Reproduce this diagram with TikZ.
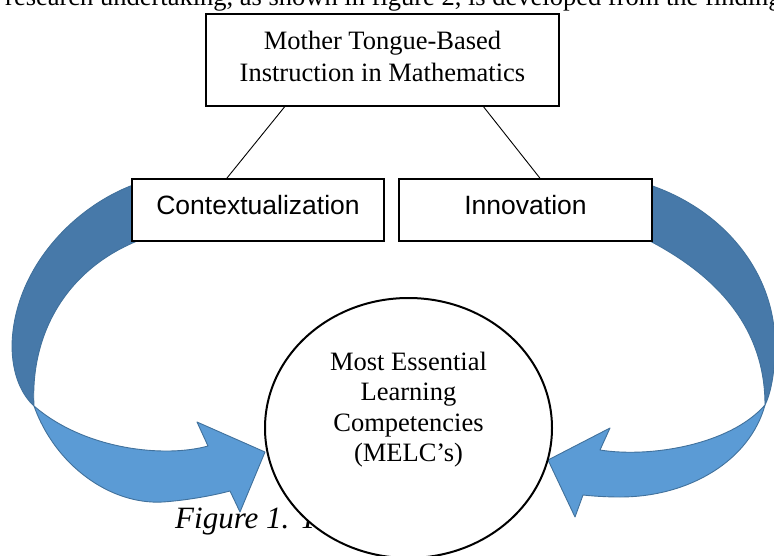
\documentclass[tikz,border=0pt]{standalone}
\usepackage{fontspec}
\setmainfont{Liberation Serif}
\newfontfamily\arialfont{Liberation Sans}
\usetikzlibrary{shapes.geometric,calc}
\definecolor{lightblue}{HTML}{5B9BD5}
\definecolor{darkblue}{HTML}{4779A9}
\definecolor{edgeblue}{HTML}{41719C}
\begin{document}
\begin{tikzpicture}[x=1pt,y=-1pt,
  serif/.style={font=\fontsize{26.5}{32}\selectfont},
  box/.style={draw=black,line width=1.5pt,fill=white,rectangle,inner sep=0pt},
  sansbox/.style={box,font=\arialfont\fontsize{26.5}{32}\selectfont,minimum width=252pt,minimum height=62pt,text height=19pt,text depth=9pt},
  band/.style={draw=edgeblue,line width=0.9pt,line join=round},
  link/.style={draw=black,line width=0.9pt}]
\useasboundingbox (0,0) rectangle (774,556);
\clip (0,0) rectangle (774,556);

% running text cut off at the top of the page
\node[serif,anchor=base west,inner sep=0pt] (runtext) at (5,5.5) {research undertaking, as shown in figure 2, is developed from the findings};

% caption (mostly hidden behind the circle)
\node[font=\fontsize{31}{36}\selectfont\itshape,anchor=base west,inner sep=0pt] (caption) at (175,528) {Figure 1. T};

% left curved arrow
\filldraw[band,fill=darkblue] (145,181) .. controls (80,200) and (14,265) .. (12,345)
  .. controls (12,375) and (22,395) .. (34,406)
  .. controls (30,330) and (70,265) .. (145,238) -- cycle;
\filldraw[band,fill=lightblue] (34,406) .. controls (55,465) and (110,505) .. (163,502)
  .. controls (190,500) and (215,495) .. (230,491)
  -- (240,512) -- (265,452) -- (197,422) -- (208,446)
  .. controls (165,458) and (85,450) .. (34,406) -- cycle;

% right curved arrow
\filldraw[band,fill=darkblue] (640,182) .. controls (720,205) and (775,270) .. (775,345)
  .. controls (775,375) and (770,395) .. (765,405)
  .. controls (765,330) and (720,275) .. (640,236) -- cycle;
\filldraw[band,fill=lightblue] (765,405) .. controls (750,460) and (690,497) .. (620,497)
  .. controls (605,497) and (592,496) .. (583,495)
  -- (575,517) -- (548,460) -- (610,428) -- (600,450)
  .. controls (650,458) and (730,445) .. (765,405) -- cycle;

% boxes
\node[box,serif,align=center,minimum width=353pt,minimum height=92pt] (mtb) at (382.5,60)
  {Mother Tongue-Based\\Instruction in Mathematics\rule[-7.6pt]{0pt}{0pt}};
\node[sansbox] (ctx) at (258,210) {Contextualization};
\node[sansbox,minimum width=253pt] (inn) at (525.5,210) {Innovation};

% connectors
\draw[link] ($(mtb.south west)!0.224!(mtb.south east)$) -- ($(ctx.north west)!0.377!(ctx.north east)$);
\draw[link] ($(mtb.south west)!0.785!(mtb.south east)$) -- ($(inn.north west)!0.557!(inn.north east)$);

% circle
\node[ellipse,draw=black,line width=2pt,fill=white,minimum width=287pt,minimum height=260pt,inner sep=0pt] (melc) at (408.5,428) {};
\node[serif,align=center,inner sep=0pt,font=\fontsize{26.5}{30.5}\selectfont] (melctext) at (408.5,409.7)
  {Most Essential\\Learning\\Competencies\\(MELC’s)};
\end{tikzpicture}
\end{document}
